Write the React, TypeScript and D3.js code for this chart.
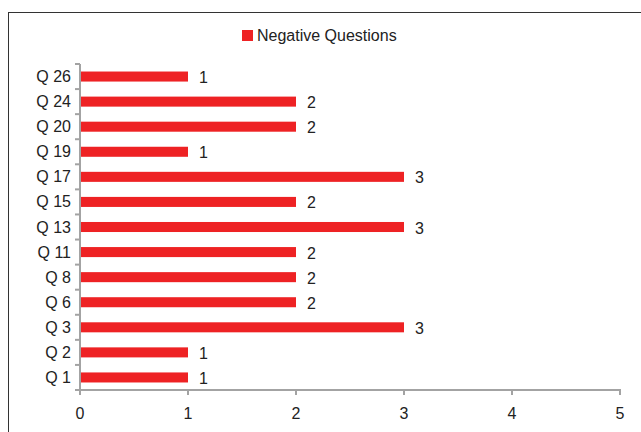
import { useEffect, useRef } from 'react'
import * as d3 from 'd3'

const categories = ['Q 1', 'Q 2', 'Q 3', 'Q 6', 'Q 8', 'Q 11', 'Q 13', 'Q 15', 'Q 17', 'Q 19', 'Q 20', 'Q 24', 'Q 26']
const negativeValues = [1, 1, 3, 2, 2, 2, 3, 2, 3, 1, 2, 2, 1]
const xTicks = [0, 1, 2, 3, 4, 5]
const seriesName = 'Negative Questions'

export default function App() {
  const svgRef = useRef<SVGSVGElement | null>(null)

  useEffect(() => {
    if (!svgRef.current) return
    const svg = d3.select(svgRef.current)
    svg.selectAll('*').remove()

    const W = 641, H = 432
    const left = 80, right = 620, top = 64, bottom = 390
    const red = '#ee2224'
    const axisCol = '#a3a3a3'
    const font = 'Liberation Sans, Arial, sans-serif'
    const fs = 16

    // outer frame (runs off the right and bottom edge)
    svg.append('rect')
      .attr('x', 8.5).attr('y', 12.5)
      .attr('width', W).attr('height', H)
      .attr('fill', 'none').attr('stroke', '#333').attr('stroke-width', 1)

    const x = d3.scaleLinear().domain([0, 5]).range([left, right])
    const y = d3.scaleBand()
      .domain([...categories].reverse())
      .range([top, bottom])
      .paddingInner(0.6).paddingOuter(0.3)

    const data = categories.map((c, i) => ({ c, v: negativeValues[i] }))

    // bars
    svg.selectAll('.bar')
      .data(data)
      .join('rect')
      .attr('class', 'bar')
      .attr('x', x(0))
      .attr('y', d => y(d.c)!)
      .attr('width', d => x(d.v) - x(0))
      .attr('height', y.bandwidth())
      .attr('fill', red)

    // value labels
    svg.selectAll('.val')
      .data(data)
      .join('text')
      .attr('class', 'val')
      .attr('x', d => x(d.v) + 11)
      .attr('y', d => y(d.c)! + y.bandwidth() / 2 + 6.5)
      .attr('font-family', font)
      .attr('font-size', fs)
      .attr('fill', '#222')
      .text(d => d.v)

    // y axis, ticks at category boundaries
    const n = categories.length
    const bounds = d3.range(n + 1).map(i => top + i * (bottom - top) / n)
    svg.append('line')
      .attr('x1', left).attr('x2', left)
      .attr('y1', top).attr('y2', bottom)
      .attr('stroke', axisCol).attr('stroke-width', 2)
    svg.selectAll('.ytick')
      .data(bounds)
      .join('line')
      .attr('class', 'ytick')
      .attr('x1', left - 5).attr('x2', left)
      .attr('y1', d => d).attr('y2', d => d)
      .attr('stroke', axisCol).attr('stroke-width', 2)

    svg.selectAll('.ylab')
      .data(categories)
      .join('text')
      .attr('class', 'ylab')
      .attr('x', left - 9)
      .attr('y', d => y(d)! + y.bandwidth() / 2 + 5.5)
      .attr('text-anchor', 'end')
      .attr('font-family', font)
      .attr('font-size', fs)
      .attr('fill', '#222')
      .text(d => d)

    // x axis
    svg.append('line')
      .attr('x1', left - 5).attr('x2', right + 1)
      .attr('y1', bottom).attr('y2', bottom)
      .attr('stroke', axisCol).attr('stroke-width', 2)
    svg.selectAll('.xtick')
      .data(xTicks)
      .join('line')
      .attr('class', 'xtick')
      .attr('x1', d => x(d)).attr('x2', d => x(d))
      .attr('y1', bottom).attr('y2', bottom + 5)
      .attr('stroke', axisCol).attr('stroke-width', 2)
    svg.selectAll('.xlab')
      .data(xTicks)
      .join('text')
      .attr('class', 'xlab')
      .attr('x', d => x(d))
      .attr('y', bottom + 29)
      .attr('text-anchor', 'middle')
      .attr('font-family', font)
      .attr('font-size', fs)
      .attr('fill', '#222')
      .text(d => d)

    // legend
    svg.append('rect')
      .attr('x', 242).attr('y', 30)
      .attr('width', 11).attr('height', 11)
      .attr('fill', red)
    svg.append('text')
      .attr('x', 257).attr('y', 41)
      .attr('font-family', font)
      .attr('font-size', fs)
      .attr('fill', '#222')
      .text(seriesName)
  }, [])

  return (
    <svg
      ref={svgRef}
      width={641}
      height={432}
      style={{ position: 'absolute', left: 0, top: 0, background: '#fff' }}
    />
  )
}
